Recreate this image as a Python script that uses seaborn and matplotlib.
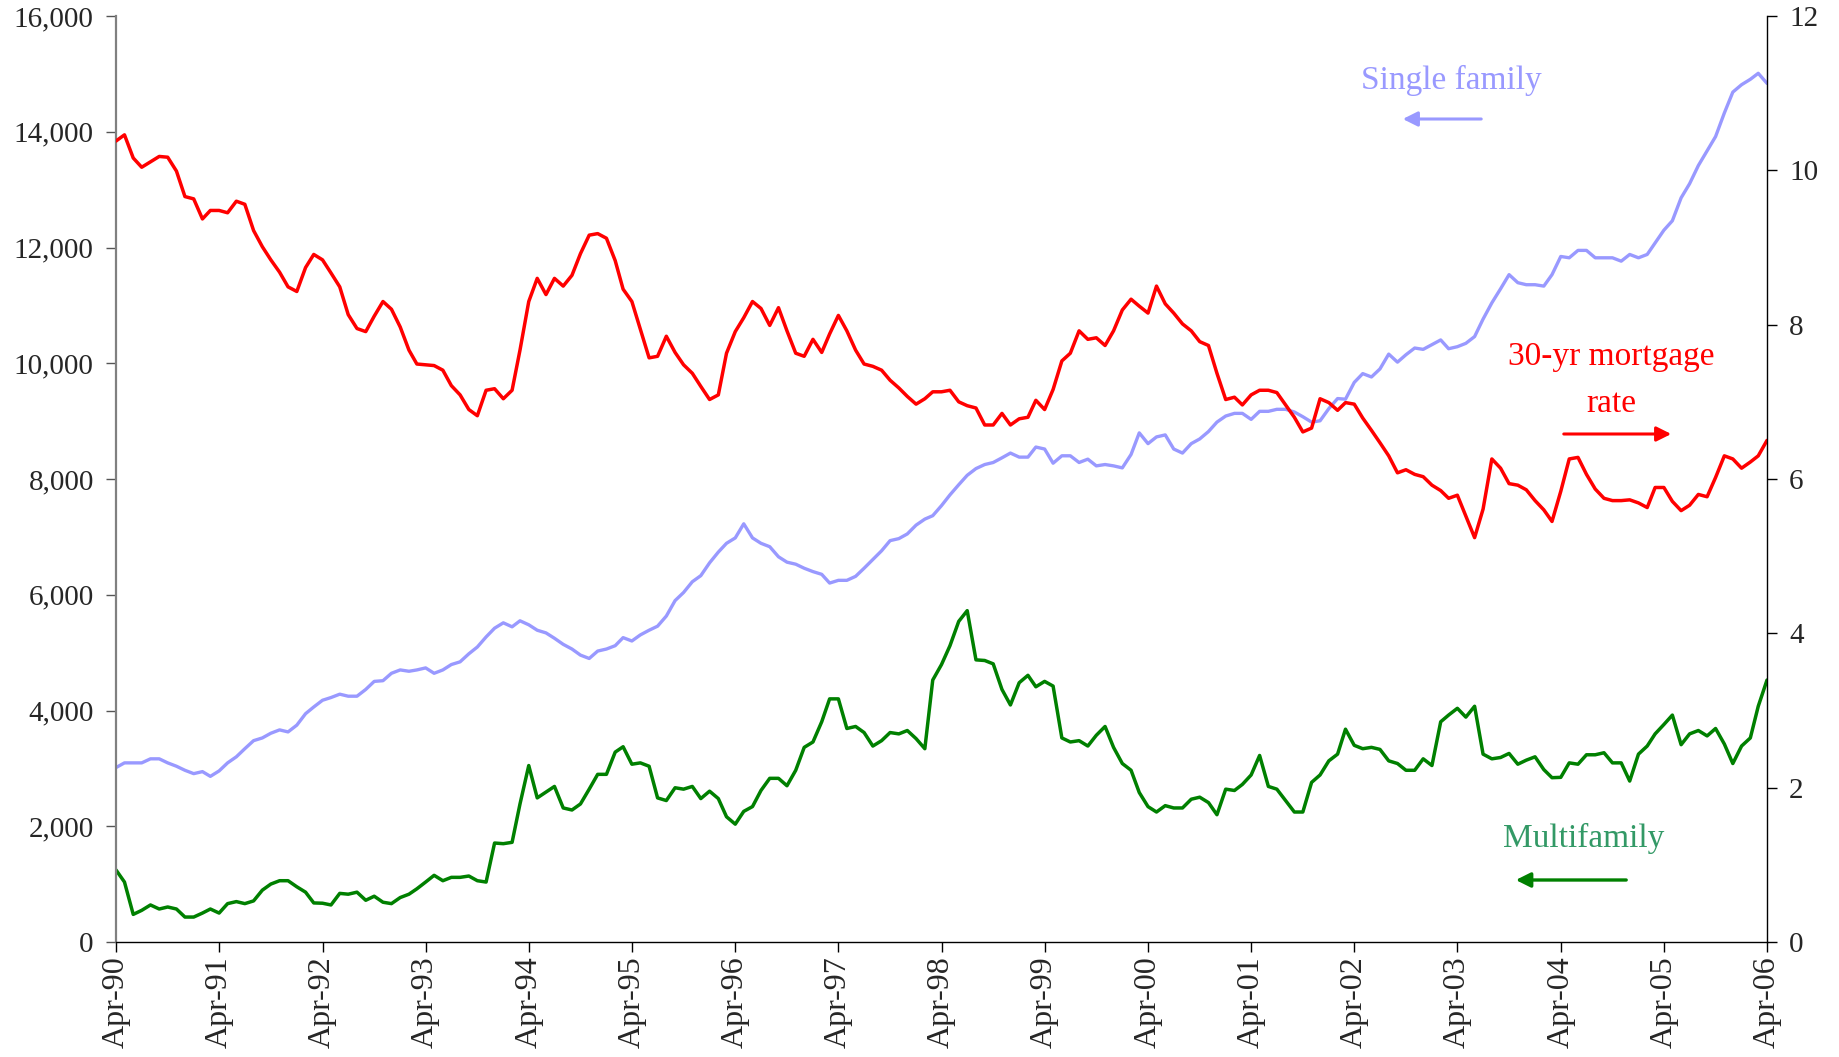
import matplotlib
matplotlib.use("Agg")
import matplotlib.pyplot as plt
import matplotlib.dates as mdates
from matplotlib.ticker import FuncFormatter, MultipleLocator
import seaborn as sns
import pandas as pd

# monthly data, Apr-1990 .. Apr-2006
single_family = [
    3014, 3095, 3095, 3095, 3165, 3165, 3095, 3037, 2967, 2909, 2944, 2862,
    2956, 3095, 3200, 3340, 3479, 3526, 3607, 3665, 3630, 3747, 3945, 4061,
    4177, 4224, 4282, 4247, 4247, 4364, 4503, 4515, 4643, 4701, 4678, 4701,
    4736, 4643, 4701, 4794, 4841, 4980, 5097, 5271, 5422, 5515, 5446, 5550,
    5481, 5387, 5341, 5248, 5143, 5062, 4957, 4899, 5027, 5062, 5120, 5259,
    5201, 5306, 5387, 5457, 5632, 5899, 6039, 6225, 6330, 6551, 6737, 6889,
    6982, 7226, 6982, 6889, 6830, 6656, 6563, 6528, 6458, 6400, 6353, 6202,
    6249, 6249, 6318, 6458, 6609, 6760, 6935, 6970, 7051, 7203, 7307, 7366,
    7540, 7726, 7901, 8064, 8180, 8250, 8285, 8366, 8448, 8378, 8378, 8552,
    8518, 8273, 8401, 8401, 8285, 8343, 8227, 8250, 8227, 8192, 8424, 8797,
    8611, 8727, 8762, 8518, 8448, 8611, 8692, 8820, 8983, 9088, 9134, 9134,
    9030, 9169, 9169, 9204, 9204, 9158, 9076, 8983, 9006, 9216, 9390, 9379,
    9669, 9821, 9763, 9902, 10158, 10019, 10147, 10263, 10240, 10321, 10403, 10251,
    10286, 10344, 10461, 10763, 11043, 11287, 11531, 11392, 11357, 11357, 11333, 11531,
    11845, 11822, 11950, 11950, 11822, 11822, 11822, 11764, 11880, 11822, 11880, 12078,
    12299, 12462, 12858, 13102, 13416, 13672, 13917, 14324, 14685, 14813, 14906, 15010,
    14836,
]

multifamily = [
    1245, 1036, 477, 547, 640, 570, 605, 570, 431, 431, 500, 570,
    500, 663, 698, 663, 710, 896, 1001, 1059, 1059, 954, 861, 675,
    670, 640, 840, 826, 861, 721, 791, 687, 663, 768, 826, 919,
    1036, 1152, 1059, 1117, 1117, 1140, 1059, 1036, 1710, 1699, 1722, 2385,
    3049, 2490, 2590, 2688, 2316, 2281, 2385, 2641, 2897, 2897, 3281, 3374,
    3072, 3095, 3037, 2490, 2444, 2665, 2641, 2688, 2478, 2606, 2478, 2164,
    2036, 2257, 2340, 2618, 2828, 2828, 2700, 2967, 3363, 3456, 3805, 4201,
    4201, 3689, 3724, 3619, 3386, 3479, 3619, 3596, 3654, 3514, 3340, 4526,
    4794, 5120, 5540, 5725, 4875, 4864, 4806, 4364, 4096, 4480, 4608, 4410,
    4503, 4422, 3526, 3456, 3479, 3386, 3572, 3724, 3363, 3084, 2967, 2583,
    2339, 2246, 2356, 2316, 2316, 2467, 2502, 2409, 2199, 2641, 2618, 2723,
    2886, 3223, 2688, 2641, 2444, 2246, 2246, 2758, 2886, 3130, 3246, 3677,
    3398, 3340, 3363, 3328, 3130, 3084, 2967, 2967, 3165, 3049, 3805, 3921,
    4038, 3886, 4073, 3246, 3165, 3188, 3258, 3072, 3142, 3200, 2979, 2839,
    2845, 3095, 3072, 3235, 3235, 3270, 3095, 3095, 2781, 3246, 3386, 3596,
    3758, 3921, 3409, 3596, 3654, 3561, 3689, 3421, 3084, 3386, 3526, 4073,
    4526,
]

mortgage_rate = [
    10.38, 10.46, 10.16, 10.04, 10.11, 10.18, 10.17, 9.99, 9.66, 9.63, 9.37, 9.48,
    9.48, 9.45, 9.60, 9.56, 9.22, 9.01, 8.84, 8.68, 8.49, 8.43, 8.74, 8.91,
    8.84, 8.67, 8.49, 8.13, 7.95, 7.91, 8.11, 8.30, 8.20, 7.97, 7.67, 7.49,
    7.48, 7.47, 7.41, 7.21, 7.09, 6.90, 6.82, 7.15, 7.17, 7.04, 7.15, 7.67,
    8.30, 8.60, 8.39, 8.60, 8.50, 8.64, 8.92, 9.16, 9.18, 9.12, 8.83, 8.46,
    8.30, 7.94, 7.57, 7.59, 7.85, 7.64, 7.48, 7.37, 7.20, 7.03, 7.09, 7.63,
    7.91, 8.09, 8.30, 8.21, 7.99, 8.22, 7.92, 7.63, 7.59, 7.81, 7.64, 7.88,
    8.12, 7.92, 7.67, 7.49, 7.46, 7.41, 7.28, 7.18, 7.07, 6.97, 7.04, 7.13,
    7.13, 7.15, 7.00, 6.95, 6.92, 6.70, 6.70, 6.85, 6.70, 6.78, 6.80, 7.02,
    6.90, 7.16, 7.53, 7.63, 7.92, 7.81, 7.83, 7.73, 7.92, 8.19, 8.33, 8.24,
    8.15, 8.50, 8.27, 8.15, 8.01, 7.92, 7.78, 7.73, 7.37, 7.03, 7.06, 6.96,
    7.09, 7.15, 7.15, 7.12, 6.96, 6.80, 6.61, 6.66, 7.04, 6.99, 6.89, 6.99,
    6.97, 6.79, 6.63, 6.47, 6.30, 6.08, 6.12, 6.06, 6.03, 5.92, 5.85, 5.75,
    5.79, 5.52, 5.24, 5.61, 6.26, 6.14, 5.94, 5.92, 5.86, 5.72, 5.60, 5.45,
    5.84, 6.26, 6.28, 6.06, 5.87, 5.75, 5.72, 5.72, 5.73, 5.69, 5.63, 5.89,
    5.89, 5.71, 5.59, 5.66, 5.80, 5.77, 6.02, 6.30, 6.26, 6.14, 6.22, 6.30,
    6.50,
]

months = pd.date_range("1990-04-01", periods=len(single_family), freq="MS")

BLUE = "#9999FF"
GREEN = "#008000"
RED = "#FF0000"

sns.set_style("white")
plt.rcParams["font.family"] = ["Liberation Serif", "DejaVu Serif"]

W, H = 1839, 1057
fig = plt.figure(figsize=(W / 100, H / 100), dpi=100)
ax = fig.add_axes([116 / W, 1 - 942 / H, (1767 - 116) / W, (942 - 16) / H])
ax2 = ax.twinx()

sns.lineplot(x=months, y=single_family, ax=ax, color=BLUE, linewidth=2.4)
sns.lineplot(x=months, y=multifamily, ax=ax, color=GREEN, linewidth=2.5)
sns.lineplot(x=months, y=mortgage_rate, ax=ax2, color=RED, linewidth=2.5)

ax.set_xlim(months[0], months[-1])
ax.set_ylim(0, 16000)
ax2.set_ylim(0, 12)
ax.yaxis.set_major_locator(MultipleLocator(2000))
ax.yaxis.set_major_formatter(FuncFormatter(lambda v, p: f"{int(v):,}"))
ax2.yaxis.set_major_locator(MultipleLocator(2))

ax.set_xticks(months[::12])
ax.xaxis.set_major_formatter(mdates.DateFormatter("%b-%y"))

for a in (ax, ax2):
    a.set_xlabel("")
    a.set_ylabel("")
    a.grid(False)
    a.spines["top"].set_visible(False)
ax.spines["right"].set_visible(False)
ax.spines["left"].set_color("#808080")
ax.spines["left"].set_linewidth(1.6)
ax.spines["bottom"].set_color("black")
ax.spines["bottom"].set_linewidth(1.0)
ax2.spines["left"].set_visible(False)
ax2.spines["bottom"].set_visible(False)
ax2.spines["right"].set_color("black")
ax2.spines["right"].set_linewidth(1.0)

ax.tick_params(axis="y", which="major", direction="out", length=7, width=1,
               color="#555555", labelsize=21, pad=9, left=True)
ax.tick_params(axis="x", which="major", direction="out", length=7, width=1,
               color="black", labelsize=23, pad=3, bottom=True, labelrotation=90)
ax2.tick_params(axis="y", which="major", direction="out", length=7, width=1,
                color="black", labelsize=21, pad=9, right=True)


def fx(px):
    return px / W


def fy(py):
    return 1 - py / H


# annotations
fig.text(fx(1451), fy(80), "Single family", color=BLUE, fontsize=24,
         ha="center", va="center")
ax.annotate("", xy=(fx(1400), fy(119)), xytext=(fx(1484), fy(119)),
            xycoords="figure fraction", textcoords="figure fraction",
            arrowprops=dict(arrowstyle="-|>", color=BLUE, lw=2.2, mutation_scale=22))

fig.text(fx(1611), fy(357), "30-yr mortgage", color=RED, fontsize=24,
         ha="center", va="center")
fig.text(fx(1611), fy(404), "rate", color=RED, fontsize=24,
         ha="center", va="center")
ax.annotate("", xy=(fx(1674), fy(434)), xytext=(fx(1561), fy(434)),
            xycoords="figure fraction", textcoords="figure fraction",
            arrowprops=dict(arrowstyle="-|>", color=RED, lw=2.2, mutation_scale=22))

fig.text(fx(1584), fy(838), "Multifamily", color="#339966", fontsize=24,
         ha="center", va="center")
ax.annotate("", xy=(fx(1513), fy(880)), xytext=(fx(1629), fy(880)),
            xycoords="figure fraction", textcoords="figure fraction",
            arrowprops=dict(arrowstyle="-|>", color=GREEN, lw=2.4, mutation_scale=22))

fig.savefig("out.png", dpi=100)
